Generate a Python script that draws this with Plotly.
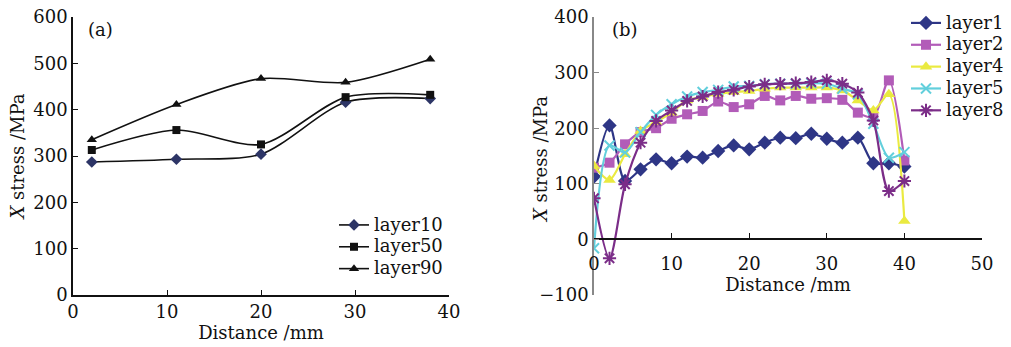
import plotly.graph_objects as go

# ---- data (a) ----
dist_a = [2, 11, 20, 29, 38]
layer10 = [287, 293, 304, 416, 424]
layer50 = [313, 356, 325, 427, 432]
layer90 = [335, 411, 467, 459, 509]

# ---- data (b) ----
dist_b = [0, 2, 4, 6, 8, 10, 12, 14, 16, 18, 20, 22, 24, 26, 28, 30, 32, 34, 36, 38, 40]
layer1 = [113, 205, 105, 126, 144, 137, 149, 147, 159, 169, 162, 174, 183, 182, 190, 181, 174, 183, 137, 137, 131]
layer2 = [129, 138, 171, 193, 200, 217, 225, 231, 248, 238, 243, 258, 250, 258, 253, 254, 251, 228, 220, 286, 142]
layer4 = [132, 107, 153, 195, 211, 228, 250, 256, 262, 265, 267, 271, 273, 273, 273, 273, 268, 250, 232, 261, 33]
layer5 = [-16, 169, 156, 193, 224, 243, 257, 265, 269, 275, 276, 279, 280, 280, 281, 280, 271, 261, 208, 147, 157]
layer8 = [74, -34, 99, 174, 213, 232, 249, 257, 265, 269, 275, 279, 280, 281, 283, 286, 280, 264, 214, 87, 105]

FONT = "DejaVu Serif"
FS = 18
W, H = 1011, 347

fig = go.Figure()

def add(x, y, name, color, symbol, size, xa, ya, legend, lw=1.6, mcolor=None):
    fig.add_trace(go.Scatter(
        x=x, y=y, name=f'<span style="font-size:{FS}px">{name}</span>', mode="lines+markers",
        line=dict(color=color, width=lw, shape="spline", smoothing=0.8),
        marker=dict(symbol=symbol, size=size, color=mcolor or color),
        xaxis=xa, yaxis=ya, legend=legend))

add(dist_a, layer10, "layer10", "#111111", "diamond", 9, "x", "y", "legend", mcolor="#2d3566")
add(dist_a, layer50, "layer50", "#111111", "square", 8, "x", "y", "legend")
add(dist_a, layer90, "layer90", "#111111", "triangle-up", 9, "x", "y", "legend")

add(dist_b, layer1, "layer1", "#2e3686", "diamond", 11, "x2", "y2", "legend2", lw=2.2)
add(dist_b, layer2, "layer2", "#b25cb8", "square", 10, "x2", "y2", "legend2", lw=2.2)
add(dist_b, layer4, "layer4", "#eaea40", "triangle-up", 11, "x2", "y2", "legend2", lw=2.2)
add(dist_b, layer5, "layer5", "#62cfdc", "x-thin-open", 10, "x2", "y2", "legend2", lw=2.2)
add(dist_b, layer8, "layer8", "#7b2d88", "asterisk-open", 11, "x2", "y2", "legend2", lw=2.2)
fig.data[-2].marker.line = dict(color="#62cfdc", width=2)
fig.data[-1].marker.line = dict(color="#7b2d88", width=2)

ydom = [1 - 295 / H, 1 - 17 / H]
xdom_a = [73 / W, 449 / W]
xdom_b = [594 / W, 982 / W]
ymin_b, ymax_b = -100, 400
pos_b = ydom[0] + (0 - ymin_b) / (ymax_b - ymin_b) * (ydom[1] - ydom[0])

tickfont = dict(family=FONT, size=FS, color="#111")
titlefont = dict(family=FONT, size=FS, color="#111")
LEGFS = 14.5

fig.update_layout(
    width=W, height=H,
    margin=dict(l=0, r=0, t=0, b=0, autoexpand=False),
    paper_bgcolor="white", plot_bgcolor="rgba(0,0,0,0)",
    font=dict(family=FONT, size=FS, color="#111"),
    xaxis=dict(domain=xdom_a, range=[0, 40], tickvals=[0, 10, 20, 30, 40], automargin=False,
               showgrid=False, zeroline=False, showline=True, linecolor="#111", linewidth=1.5,
               ticks="inside", ticklen=5, tickcolor="#111", tickfont=tickfont,
               title=dict(text="Distance /mm", font=titlefont, standoff=0), anchor="y"),
    yaxis=dict(domain=ydom, range=[0, 600], tickvals=[0, 100, 200, 300, 400, 500, 600], automargin=False,
               showgrid=False, zeroline=False, showline=True, linecolor="#111", linewidth=1.5,
               ticks="inside", ticklen=5, tickcolor="#111", tickfont=tickfont,
               title=dict(text="<i>X</i> stress /MPa", font=titlefont, standoff=4), anchor="x"),
    xaxis2=dict(domain=xdom_b, range=[0, 50], tickvals=[0, 10, 20, 30, 40, 50], automargin=False,
                showgrid=False, zeroline=False, showline=True, linecolor="#111", linewidth=2,
                ticks="inside", ticklen=5, tickcolor="#111", tickfont=tickfont, ticklabelstandoff=8,
                title=dict(text="Distance /mm", font=titlefont, standoff=0),
                anchor="free", position=pos_b),
    yaxis2=dict(domain=ydom, range=[ymin_b, ymax_b], tickvals=[-100, 0, 100, 200, 300, 400], automargin=False,
                showgrid=False, zeroline=False, showline=True, linecolor="#888", linewidth=1.5,
                ticks="inside", ticklen=5, tickcolor="#888", tickfont=tickfont, anchor="x2"),
    legend=dict(x=334 / W, y=1 - 209 / H, xanchor="left", yanchor="top",
                font=dict(family=FONT, size=LEGFS, color="#111"), bgcolor="rgba(0,0,0,0)",
                tracegroupgap=0, itemwidth=30),
    legend2=dict(x=906 / W, y=1 - 7 / H, xanchor="left", yanchor="top",
                 font=dict(family=FONT, size=LEGFS, color="#111"), bgcolor="rgba(0,0,0,0)",
                 tracegroupgap=0, itemwidth=30),
    annotations=[
        dict(text="(a)", x=86 / W, y=1 - 30 / H, xref="paper", yref="paper",
             xanchor="left", yanchor="middle", showarrow=False, font=dict(family=FONT, size=FS, color="#111")),
        dict(text="(b)", x=610 / W, y=1 - 29 / H, xref="paper", yref="paper",
             xanchor="left", yanchor="middle", showarrow=False, font=dict(family=FONT, size=FS, color="#111")),
        dict(text="<i>X</i> stress /MPa", x=540 / W, y=1 - 160 / H, xref="paper", yref="paper",
             xanchor="center", yanchor="middle", textangle=-90, showarrow=False,
             font=dict(family=FONT, size=FS, color="#111")),
    ],
)

fig.write_html("out.html")
